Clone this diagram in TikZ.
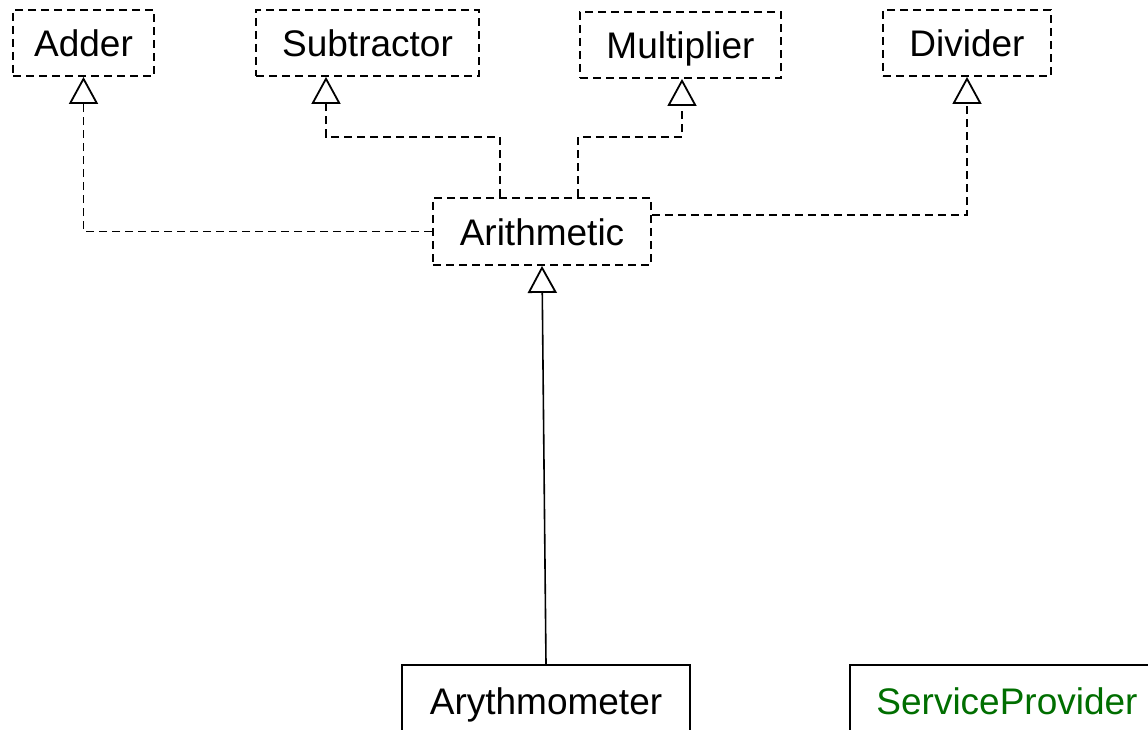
\documentclass[tikz,border=0pt]{standalone}
\usepackage{fontspec}
\setmainfont{Liberation Sans}
\usetikzlibrary{arrows.meta}
\definecolor{provgreen}{RGB}{0,110,0}
\begin{document}
\begin{tikzpicture}[x=1pt,y=-1pt,
  label font/.style={font=\fontsize{37}{44}\selectfont, text height=30pt, text depth=2pt},
  iface/.style={draw, dash pattern=on 8pt off 5pt, line width=1.8pt,
    inner sep=0pt, minimum height=66pt, label font},
  cls/.style={draw, line width=1.6pt, inner sep=0pt, minimum height=70pt, label font},
  hollow/.style={-{Triangle[open,length=27pt,width=29pt,line width=1.8pt]}},
  realize/.style={hollow, dash pattern=on 8pt off 5pt, line width=1.8pt},
  inherit/.style={hollow, line width=1.6pt}]
  \clip (0,0) rectangle (1148,730);
  \useasboundingbox (0,0) rectangle (1148,730);

  % interfaces
  \node[iface, minimum width=141pt] (adder) at (83.5,43) {Adder};
  \node[iface, minimum width=223pt] (sub)   at (367.5,43) {Subtractor};
  \node[iface, minimum width=201pt] (mult)  at (680.5,45) {Multiplier};
  \node[iface, minimum width=168pt] (div)   at (967,43) {Divider};
  \node[iface, minimum width=218pt, minimum height=67pt] (arith) at (542,231.5) {Arithmetic};

  % classes
  \node[cls, minimum width=288pt] (arym) at (546,700) {Arythmometer};
  \node[cls, minimum width=314pt, text=provgreen] (prov) at (1007,700) {ServiceProvider};

  % bend points
  \coordinate (sbend) at (326,137);
  \coordinate (mbend) at (682,137);

  % Arithmetic extends the four operations
  \draw[realize] (arith.west) -| (adder.south);
  \draw[realize] ([xshift=-42pt]arith.north) |- (sbend) -- (sbend |- sub.south);
  \draw[realize] ([xshift=36pt]arith.north) |- (mbend) -- (mbend |- mult.south);
  \draw[realize] ([yshift=16.5pt]arith.east) -| (div.south);

  % Arythmometer implements Arithmetic
  \draw[inherit] (arym.north) -- (arith.south);
\end{tikzpicture}
\end{document}
